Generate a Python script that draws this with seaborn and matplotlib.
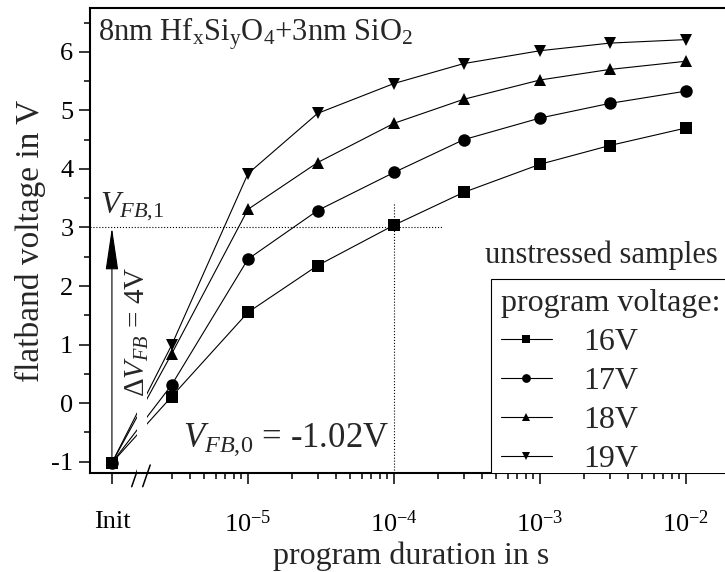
import numpy as np
import pandas as pd
import matplotlib
matplotlib.use("Agg")
import matplotlib.pyplot as plt
from matplotlib.ticker import FixedLocator, NullFormatter, MultipleLocator
import seaborn as sns

# ---------------- data ----------------
durations = [3e-6, 1e-5, 3e-5, 1e-4, 3e-4, 1e-3, 3e-3, 1e-2]
voltages = ["16V", "17V", "18V", "19V"]
vfb_16 = [0.11, 1.55, 2.35, 3.04, 3.60, 4.08, 4.40, 4.70]
vfb_17 = [0.31, 2.46, 3.29, 3.94, 4.50, 4.87, 5.12, 5.33]
vfb_18 = [0.84, 3.31, 4.11, 4.78, 5.19, 5.52, 5.70, 5.84]
vfb_19 = [0.99, 3.92, 4.95, 5.46, 5.80, 6.02, 6.15, 6.21]
vfb_init = -1.02          # V_FB,0 of unstressed samples
vfb_target = 3.0          # V_FB,1
t_target = 1e-4
xtick_values = [1e-5, 1e-4, 1e-3, 1e-2]
xtick_labels = [r"$\mathregular{10^{-5}}$", r"$\mathregular{10^{-4}}$",
                r"$\mathregular{10^{-3}}$", r"$\mathregular{10^{-2}}$"]

# ---------------- layout constants ----------------
INIT_POS = 1.17e-6        # where the "Init" column sits on the log axis
XLIM = (10 ** -6.082, 10 ** -1.685)
YLIM = (-1.2, 6.75)

sns.set_style("ticks")
plt.rcParams["font.family"] = ["Liberation Serif", "DejaVu Serif"]
plt.rcParams["mathtext.fontset"] = "custom"
plt.rcParams["mathtext.rm"] = "Liberation Serif"
plt.rcParams["mathtext.it"] = "Liberation Serif:italic"
plt.rcParams["mathtext.bf"] = "Liberation Serif:bold"
plt.rcParams["axes.unicode_minus"] = False

rows = []
for v, vals in zip(voltages, [vfb_16, vfb_17, vfb_18, vfb_19]):
    rows.append({"t": INIT_POS, "vfb": vfb_init, "voltage": v})
    for t, y in zip(durations, vals):
        rows.append({"t": t, "vfb": y, "voltage": v})
df = pd.DataFrame(rows)

fig = plt.figure(figsize=(7.25, 5.72), dpi=100)
ax = fig.add_axes([90 / 725, (572 - 473.3) / 572, 642 / 725, 465.3 / 572])

sns.lineplot(data=df, x="t", y="vfb", style="voltage", style_order=voltages,
             markers={"16V": "s", "17V": "o", "18V": "^", "19V": "v"},
             dashes=False, color="black", linewidth=0.8, markersize=9,
             markeredgecolor="black", markeredgewidth=0,
             legend=False, ax=ax, estimator=None, sort=True)
series_lines = list(ax.lines[:4])

ax.set_xscale("log")
ax.set_xlim(*XLIM)
ax.set_ylim(*YLIM)

# break gap in the connecting lines
ax.axvspan(10 ** -5.760, 10 ** -5.692, ymin=0, ymax=0.33, color="white",
           zorder=2.2, lw=0)

# ticks
ax.xaxis.set_major_locator(FixedLocator([INIT_POS] + xtick_values))
ax.set_xticklabels(["Init"] + xtick_labels)
minors = [k * 10.0 ** e for e in range(-6, -1) for k in range(2, 10)]
minors = [m for m in minors if 2.9e-6 <= m <= 1.2e-2]
ax.xaxis.set_minor_locator(FixedLocator(minors))
ax.xaxis.set_minor_formatter(NullFormatter())
ax.yaxis.set_major_locator(MultipleLocator(1))
ax.yaxis.set_minor_locator(MultipleLocator(0.5))
ax.tick_params(axis="both", which="major", direction="out", length=8,
               width=1.1, labelsize=19, color="black", labelcolor="black")
ax.tick_params(axis="both", which="minor", direction="out", length=4.3,
               width=1.1, color="black")
ax.tick_params(axis="x", which="major", pad=19)
ax.tick_params(axis="y", which="major", pad=4)

for s in ax.spines.values():
    s.set_linewidth(1.5)
    s.set_color("black")

ax.set_xlabel("program duration in s", fontsize=23, labelpad=3)
ax.set_ylabel("flatband voltage in V", fontsize=24, labelpad=4)

# guide lines
ax.plot([XLIM[0], 10 ** -3.664], [vfb_target, vfb_target], ls=":",
        color="black", lw=0.8)
ax.plot([t_target, t_target], [YLIM[0], 3.44], ls=":", color="black", lw=0.8)

# arrow
ax.annotate("", xy=(INIT_POS, vfb_target), xytext=(INIT_POS, vfb_init),
            arrowprops=dict(arrowstyle="-|>,head_length=1.35,head_width=0.2",
                            color="black", lw=0.8, shrinkA=0, shrinkB=0,
                            mutation_scale=20))

# texts
ax.text(10 ** -6.0137, 3.25, r"$V_{FB{,}1}$", fontsize=23, ha="left",
        va="baseline")
ax.text(10 ** -5.705, 0.11, r"$\Delta V_{FB}$ = 4V", fontsize=21,
        rotation=90, rotation_mode="anchor", ha="left", va="baseline")
ax.text(10 ** -5.445, -0.746, r"$V_{FB{,}0}$ = -1.02V", fontsize=25,
        ha="left", va="baseline")
ax.text(8 / 642, 0.931,
        r"8nm Hf$_\mathregular{x}$Si$_\mathregular{y}$O$_\mathregular{4}$+3nm SiO$_\mathregular{2}$",
        transform=ax.transAxes, fontsize=22, ha="left", va="baseline")
ax.text(10 ** -3.377, 2.39, "unstressed samples", fontsize=22, ha="left",
        va="baseline")

# axis break marks
for x0 in (131.7, 142.7):
    ax.plot([(x0 - 90) / 642, (x0 + 7.5 - 90) / 642],
            [(473.3 - 486.7) / 465.3, (473.3 - 465) / 465.3],
            transform=ax.transAxes, color="black", lw=1.1, clip_on=False)

leg = ax.legend(handles=series_lines, labels=voltages, title="program voltage:",
                loc="lower left", bbox_to_anchor=((491 - 90) / 642, -10 / 465.3),
                borderaxespad=0, fontsize=23, title_fontsize=23,
                frameon=True, fancybox=False, edgecolor="black",
                framealpha=1, handlelength=1.6, handletextpad=1.0,
                labelspacing=0.3, markerscale=0.7, alignment="left",
                borderpad=0.3)
frame = leg.get_frame()
frame.set_linewidth(0.8)
frame.set_clip_box(ax.bbox)
frame.set_clip_on(True)

fig.savefig("out.png", dpi=100)
